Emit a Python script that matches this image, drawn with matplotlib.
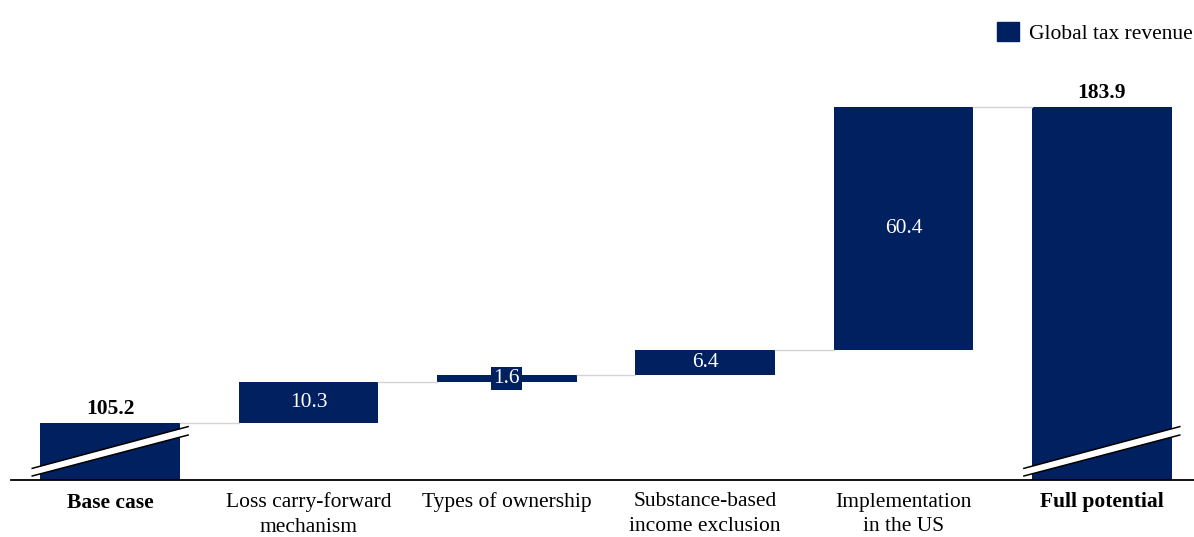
import matplotlib
matplotlib.use("Agg")
import matplotlib.pyplot as plt
from matplotlib.patches import Patch, Polygon

plt.rcParams['font.family'] = ['Liberation Serif', 'DejaVu Serif']

labels = ["Base case", "Loss carry-forward\nmechanism", "Types of ownership",
          "Substance-based\nincome exclusion", "Implementation\nin the US", "Full potential"]
base_value = 105.2
steps = [10.3, 1.6, 6.4, 60.4]
total_value = 183.9

navy = "#002060"
y_lo, y_hi = 91.0, 210.55
bar_w = 0.705
fs = 15.5

fig = plt.figure(figsize=(11.94, 5.37), dpi=100)
ax = fig.add_axes([11 / 1194, 57 / 537, 1190 / 1194, 480 / 537])

# start and end totals
ax.bar(0, base_value - y_lo, bottom=y_lo, width=bar_w, color=navy)
ax.bar(5, total_value - y_lo, bottom=y_lo, width=bar_w, color=navy)

# floating increments
level = base_value
levels = [base_value]
for i, s in enumerate(steps, start=1):
    ax.bar(i, s, bottom=level, width=bar_w, color=navy)
    kw = dict(ha="center", va="center", color="white", fontsize=fs)
    if s < 3:
        kw["bbox"] = dict(boxstyle="square,pad=0.1", fc=navy, ec="none")
    ax.text(i, level + s / 2, f"{s:.1f}", **kw)
    level += s
    levels.append(level)

# connectors between bars
for i, lv in enumerate(levels):
    ax.plot([i + bar_w / 2, i + 1 - bar_w / 2], [lv, lv], color="#d4d4d4", lw=1, zorder=1)

ax.text(0, base_value + 1.0, f"{base_value:.1f}", ha="center", va="bottom",
        fontsize=fs, fontweight="bold")
ax.text(5, total_value + 1.0, f"{total_value:.1f}", ha="center", va="bottom",
        fontsize=fs, fontweight="bold")

# axis-break marks on the two total bars
for x in (0, 5):
    x0, x1 = x - 0.393, x + 0.393
    lo0, lo1 = y_lo + 1.0, y_lo + 11.2
    up0, up1 = y_lo + 2.9, y_lo + 13.3
    ax.add_patch(Polygon([(x0, lo0), (x1, lo1), (x1, up1), (x0, up0)],
                         closed=True, fc="white", ec="none", zorder=3))
    ax.plot([x0, x1], [lo0, lo1], color="black", lw=1.1, zorder=4)
    ax.plot([x0, x1], [up0, up1], color="black", lw=1.1, zorder=4)

ax.set_xlim(-0.5, 5.5)
ax.set_ylim(y_lo, y_hi)
ax.set_xticks(range(len(labels)))
ax.set_xticklabels(labels, fontsize=fs, linespacing=1.4)
for t in (ax.get_xticklabels()[0], ax.get_xticklabels()[-1]):
    t.set_fontweight("bold")
ax.tick_params(axis="x", length=0, pad=9)
ax.set_yticks([])
for side in ("top", "right", "left"):
    ax.spines[side].set_visible(False)
ax.spines["bottom"].set_linewidth(1.3)

fig.legend(handles=[Patch(color=navy, label="Global tax revenue")],
           loc="upper right", bbox_to_anchor=(1.01, 0.983), frameon=False,
           fontsize=fs, handlelength=1.0, handleheight=1.0, handletextpad=0.5,
           borderaxespad=0.2, borderpad=0.4)

fig.savefig("out.png", dpi=100)
